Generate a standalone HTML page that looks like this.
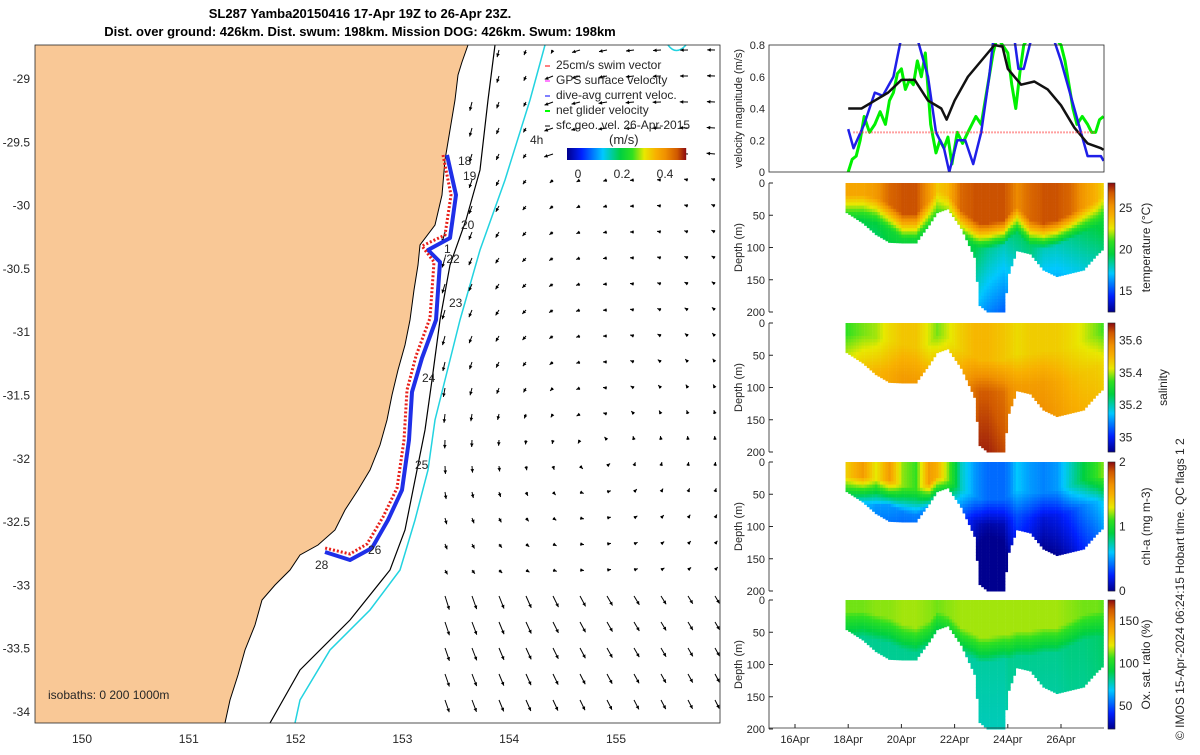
<!DOCTYPE html>
<html><head><meta charset="utf-8"><style>
body{margin:0;background:#fff}
svg text{font-family:"Liberation Sans",sans-serif;fill:#262626}
</style></head><body>
<svg id="s" width="1200" height="750" xmlns="http://www.w3.org/2000/svg">
<text x="360" y="18" font-size="13" font-weight="bold" text-anchor="middle" style="fill:#000">SL287 Yamba20150416 17-Apr 19Z to 26-Apr 23Z.</text>
<text x="360" y="36" font-size="13" font-weight="bold" text-anchor="middle" style="fill:#000">Dist. over ground: 426km. Dist. swum: 198km. Mission DOG: 426km. Swum: 198km</text>
<g id="map">
<rect x="35" y="45" width="685" height="678" fill="#fff"/>
<polygon fill="#f9c896" points="468,45 462,62 458,75 455,100 450,130 445,160 442,195 435,225 420,245 418,265 414,290 410,320 405,345 398,370 392,395 387,420 380,445 370,470 358,490 345,510 335,530 318,545 300,555 290,570 275,585 262,600 255,625 245,650 238,675 230,700 225,723 35,723 35,45"/>
<polyline fill="none" stroke="#000" stroke-width="1" points="468,45 462,62 458,75 455,100 450,130 445,160 442,195 435,225 420,245 418,265 414,290 410,320 405,345 398,370 392,395 387,420 380,445 370,470 358,490 345,510 335,530 318,545 300,555 290,570 275,585 262,600 255,625 245,650 238,675 230,700 225,723"/>
<polyline fill="none" stroke="#000" stroke-width="1.2" points="495,45 488,100 480,170 466,220 450,265 440,320 432,380 425,430 415,480 405,530 390,570 350,620 300,670 270,723"/>
<polyline fill="none" stroke="#22d3e0" stroke-width="1.5" points="545,45 530,100 505,180 480,250 460,320 445,380 435,420 428,470 415,520 400,570 370,610 330,650 300,700 295,723"/>
<path d="M668,45 Q676,56 686,45" fill="none" stroke="#22d3e0" stroke-width="1.5"/>
<g id="arrows"></g>
<polyline fill="none" stroke="#1f2fe8" stroke-width="4" stroke-linejoin="round" points="447,155 456,195 450,238 428,250 440,262 436,320 422,358 412,392 409,440 402,490 388,520 372,548 350,560 325,552"/>
<polyline fill="none" stroke="#e8201a" stroke-width="3" stroke-dasharray="2,2" points="443,155 451,195 445,235 422,246 434,262 430,318 416,356 407,390 404,440 397,488 383,517 367,544 350,554 325,548"/>
<g font-size="12">
<text x="458" y="165">18</text>
<text x="463" y="180">19</text>
<text x="461" y="229">20</text>
<text x="444" y="253">1</text>
<text x="443" y="263">/22</text>
<text x="449" y="307">23</text>
<text x="422" y="382">24</text>
<text x="415" y="469">25</text>
<text x="368" y="554">26</text>
<text x="315" y="569">28</text>
</g>
<g font-size="12">
<text x="556" y="69">25cm/s swim vector</text><line x1="545" y1="66" x2="550" y2="66" stroke="red"/>
<text x="556" y="84">GPS surface velocity</text><line x1="545" y1="81" x2="550" y2="81" stroke="#f0f"/>
<text x="556" y="99">dive-avg current veloc.</text><line x1="545" y1="96" x2="550" y2="96" stroke="#00f"/>
<text x="556" y="114">net glider velocity</text><line x1="545" y1="111" x2="550" y2="111" stroke="#0f0" stroke-width="2"/>
<text x="556" y="129">sfc geo. vel. 26-Apr-2015</text><line x1="545" y1="126" x2="550" y2="126" stroke="#000"/>
<text x="530" y="144">4h</text>
<text x="609" y="144" font-size="13">(m/s)</text>
<rect id="lgcb" x="567" y="148" width="119" height="12" fill="none"/>
<text x="578" y="178" text-anchor="middle">0</text><text x="622" y="178" text-anchor="middle">0.2</text><text x="665" y="178" text-anchor="middle">0.4</text>
</g>
<text x="48" y="699" font-size="12">isobaths: 0   200  1000m</text>
<rect x="35" y="45" width="685" height="678" fill="none" stroke="#262626" stroke-width="0.8"/>
<g id="mapticks" font-size="12"></g>
</g>
<g id="right"></g>
<text transform="translate(1184,740) rotate(-90)" font-size="12">© IMOS 15-Apr-2024 06:24:15 Hobart time. QC flags 1  2</text>
</svg>
<script>
const NS="http://www.w3.org/2000/svg";
function mk(tag,attrs,parent){const e=document.createElementNS(NS,tag);for(const k in attrs)e.setAttribute(k,attrs[k]);parent.appendChild(e);return e;}
const CM=[[0,[0,0,143]],[0.12,[0,32,255]],[0.3,[0,200,255]],[0.45,[0,208,64]],[0.55,[48,224,32]],[0.65,[232,232,0]],[0.75,[248,176,0]],[0.83,[240,144,0]],[0.93,[208,88,0]],[1,[144,16,16]]];
function cmap(v){v=Math.max(0,Math.min(1,v));for(let i=0;i<CM.length-1;i++){if(v<=CM[i+1][0]){const f=(v-CM[i][0])/(CM[i+1][0]-CM[i][0]);const a=CM[i][1],b=CM[i+1][1];return `rgb(${Math.round(a[0]+f*(b[0]-a[0]))},${Math.round(a[1]+f*(b[1]-a[1]))},${Math.round(a[2]+f*(b[2]-a[2]))})`;}}return 'rgb(144,16,16)';}
// ---- data ----
const lonTicks=[150,151,152,153,154,155];
const latTicks=[-29,-29.5,-30,-30.5,-31,-31.5,-32,-32.5,-33,-33.5,-34];
const dateTicks=["16Apr","18Apr","20Apr","22Apr","24Apr","26Apr"];
const dateTickDays=[16,18,20,22,24,26];
const velBlackT=[18,18.5,19,19.5,20,20.5,21,21.5,21.7,22,22.5,23,23.5,23.8,24,24.5,25,25.5,26,26.5,27,27.5,27.6];
const velBlack=[0.40,0.40,0.45,0.50,0.58,0.58,0.45,0.40,0.33,0.45,0.60,0.70,0.80,0.79,0.65,0.55,0.57,0.52,0.42,0.28,0.18,0.15,0.14];
const velBlueT=[18,18.2,18.6,19,19.3,19.7,20,20.5,21,21.3,21.6,21.8,22.1,22.4,22.7,23,23.3,23.5,24.2,24.4,24.6,24.9,25.6,26,26.5,27,27.5,27.6];
const velBlue=[0.27,0.15,0.30,0.50,0.48,0.60,0.85,0.90,0.60,0.25,0.15,0.0,0.20,0.20,0.05,0.25,0.60,0.90,0.90,0.65,0.65,0.85,0.90,0.70,0.40,0.10,0.10,0.07];
const velGreenT=[18,18.15,18.3,18.45,18.6,18.8,19,19.2,19.4,19.55,19.7,19.85,20,20.15,20.3,20.45,20.6,20.75,20.9,21.1,21.3,21.45,21.6,21.75,21.9,22.1,22.3,22.5,22.65,22.8,23,23.15,23.3,23.45,23.6,23.8,24,24.15,24.3,24.45,24.6,24.8,25,25.5,26,26.15,26.3,26.45,26.6,26.8,27,27.15,27.3,27.45,27.6];
const velGreen=[0,0.08,0.10,0.2,0.35,0.25,0.30,0.38,0.30,0.45,0.50,0.62,0.65,0.52,0.58,0.55,0.70,0.60,0.75,0.30,0.12,0.20,0.15,0.22,0.05,0.25,0.18,0.25,0.30,0.35,0.30,0.45,0.60,0.75,0.85,0.80,0.75,0.55,0.40,0.62,0.80,0.85,0.90,0.90,0.80,0.70,0.55,0.40,0.30,0.35,0.30,0.25,0.25,0.33,0.35];
const swimSpeed=0.25;
const profT=[17.9,18.5,19,19.5,20,20.5,21,21.3,21.7,22.2,22.7,22.9,23.2,23.8,24.0,24.3,24.8,25.3,25.8,26.3,26.8,27.3,27.6];
const bottomDepth=[46,62,80,92,93,93,65,46,40,70,115,190,200,200,140,105,110,135,145,140,135,112,100];
const tempSurf=[24.5,24.5,25,26.5,27,27,25,23.5,24,26.5,27,27,27,27,26.5,25.5,26.5,27,27,26.5,25,24,23];
const tempMld=[15,15,20,30,45,45,25,10,15,40,55,60,60,55,45,35,55,60,55,45,35,25,15];
const tempDeep=[19.5,19.5,19.5,20,20,20,20,20.5,20.5,20,19.5,19,18.5,18,18.5,19,19,18,18,18.5,19,19.5,20];
const salSurf=[35.35,35.38,35.4,35.45,35.48,35.48,35.42,35.38,35.42,35.47,35.5,35.5,35.5,35.48,35.47,35.45,35.47,35.47,35.47,35.45,35.42,35.38,35.35];
const salMld=[15,15,20,25,30,35,30,15,20,40,50,55,55,55,50,45,45,40,40,35,25,15,10];
const salDeep=[35.45,35.48,35.5,35.52,35.55,35.55,35.52,35.5,35.5,35.55,35.62,35.65,35.65,35.62,35.58,35.55,35.55,35.55,35.53,35.5,35.48,35.47,35.45];
const chlSurf=[1.4,1.6,1.3,1.6,1.2,1.1,1.6,1.5,1.2,0.7,0.5,0.45,0.4,0.4,0.45,0.6,0.5,0.45,0.5,0.7,0.9,1.1,1.2];
const chlMld=[20,20,25,25,35,40,30,20,25,40,50,55,55,55,50,40,45,45,40,35,25,20,20];
const chlDeep=[0.7,0.6,0.5,0.5,0.45,0.45,0.45,0.5,0.5,0.35,0.15,0.08,0.05,0.08,0.2,0.35,0.25,0.15,0.2,0.3,0.45,0.55,0.65];
const oxSurf=[112,112,114,114,116,116,114,112,114,116,116,116,116,116,116,116,116,116,116,114,112,112,110];
const oxMld=[15,15,20,25,35,40,30,15,20,40,50,55,55,50,50,45,45,40,40,30,20,15,15];
const oxDeep=[85,82,82,82,82,82,82,82,82,80,80,80,80,80,82,82,82,82,82,84,84,86,88];
// ---- map axes ----
const mapX=lon=>82+(lon-150)*106.8;
const mapY=lat=>79+(-29-lat)*126.6;
const mt=document.getElementById('mapticks');
lonTicks.forEach(l=>{const t=mk('text',{x:mapX(l),y:743,'text-anchor':'middle'},mt);t.textContent=l;

});
latTicks.forEach(l=>{const t=mk('text',{x:30,y:mapY(l)+4,'text-anchor':'end'},mt);t.textContent=l;

});
const lg=document.getElementById('lgcb').parentNode;
for(let i=0;i<119;i++){mk('rect',{x:567+i,y:148,width:1.2,height:12,fill:cmap(i/118)},lg);}
// arrows
const ag=document.getElementById('arrows');
function coastX(y){const p=[[45,468],[100,455],[160,445],[225,435],[265,418],[320,410],[370,398],[420,387],[470,370],[510,345],[545,318],[570,290],[600,262],[650,245],[700,230],[723,225]];for(let i=0;i<p.length-1;i++){if(y>=p[i][0]&&y<=p[i+1][0]){const f=(y-p[i][0])/(p[i+1][0]-p[i][0]);return p[i][1]+f*(p[i+1][1]-p[i][1]);}}return 225;}
for(let y=50;y<720;y+=26){for(let x=445;x<718;x+=27){if(x<coastX(y)+12)continue;
let dx=x-585,dy=y-450;let vx=0.012*dy,vy=-0.012*dx;const r=Math.hypot(dx,dy);const damp=Math.exp(-r/150);vx*=damp*3;vy*=damp*3;
const dist=x-coastX(y);vy+=5*Math.exp(-dist/80);if(y<180&&dist>90){vx-=3;}if(y>590){vy+=5;vx+=0.8;}
const L=Math.hypot(vx,vy)||1;const len=Math.min(18,Math.max(4,L*2));const ux=vx/L,uy=vy/L;
const x2=x+ux*len,y2=y+uy*len;
mk('line',{x1:x,y1:y,x2:x2,y2:y2,stroke:'#000','stroke-width':1},ag);
mk('polygon',{points:`${x2},${y2} ${x2-ux*3.5-uy*1.8},${y2-uy*3.5+ux*1.8} ${x2-ux*3.5+uy*1.8},${y2-uy*3.5-ux*1.8}`,fill:'#000'},ag);}}
// ---- right panels ----
const R=document.getElementById('right');
const tx=t=>795+(t-16)*26.6;
const L0=769,R0=1104;
function interp(ts,vs,t){if(t<=ts[0])return vs[0];for(let i=0;i<ts.length-1;i++){if(t<=ts[i+1]){const f=(t-ts[i])/(ts[i+1]-ts[i]);return vs[i]+f*(vs[i+1]-vs[i]);}}return vs[vs.length-1];}
const vy0=45,vy1=172,vmax=0.8;const vyf=v=>vy1-(v/vmax)*(vy1-vy0);
mk('clipPath',{id:'vclip'},R);mk('rect',{x:L0,y:vy0-2,width:R0-L0,height:vy1-vy0+2},R.lastChild);
const vg=mk('g',{'clip-path':'url(#vclip)'},R);
function line(ts,vs,col,w,name){const pl=mk('polyline',{points:ts.map((t,i)=>tx(t)+','+vyf(vs[i])).join(' '),fill:'none',stroke:col,'stroke-width':w,'stroke-linejoin':'round'},vg);

}
line(velGreenT,velGreen,'#00f000',3,'net-glider-velocity-line');
line(velBlueT,velBlue,'#1f1fe8',2.5,'dive-avg-current-line');
line(velBlackT,velBlack,'#111',2.5,'surface-geo-velocity-line');
const sw=mk('line',{x1:tx(18.2),x2:tx(27.3),y1:vyf(swimSpeed),y2:vyf(swimSpeed),stroke:'#f44','stroke-width':2,'stroke-dasharray':'1,2'},vg);


mk('rect',{x:L0,y:vy0,width:R0-L0,height:vy1-vy0,fill:'none',stroke:'#262626','stroke-width':0.8},R);
[0,0.2,0.4,0.6,0.8].forEach(v=>{const t=mk('text',{x:L0-4,y:vyf(v)+4,'text-anchor':'end','font-size':11},R);t.textContent=v;

});
let yl=mk('text',{transform:`translate(742,${(vy0+vy1)/2}) rotate(-90)`,'text-anchor':'middle','font-size':11},R);yl.textContent='velocity magnitude (m/s)';


const panels=[
{y0:183,surf:tempSurf,mld:tempMld,deep:tempDeep,tw:40,slope:-0.025,vmin:12.5,vmax:28,ticks:[15,20,25],label:'temperature (°C)',name:'temperature'},
{y0:323,surf:salSurf,mld:salMld,deep:salDeep,tw:50,slope:0.0005,vmin:34.91,vmax:35.71,ticks:[35,35.2,35.4,35.6],label:'salinity',name:'salinity'},
{y0:462,surf:chlSurf,mld:chlMld,deep:chlDeep,tw:40,slope:-0.003,vmin:0,vmax:2,ticks:[0,1,2],label:'chl-a (mg m-3)',name:'chlorophyll'},
{y0:600,surf:oxSurf,mld:oxMld,deep:oxDeep,tw:40,slope:-0.03,vmin:23,vmax:175,ticks:[50,100,150],label:'Ox. sat. ratio (%)',name:'oxygen'}];
panels.forEach(p=>{const H=129,y1=p.y0+H;const dy=d=>p.y0+d/200*H;
const g=mk('g',{},R);
for(let t=17.9;t<=27.6;t+=0.1){const bd=interp(profT,bottomDepth,t),s=interp(profT,p.surf,t),m=interp(profT,p.mld,t),dp=interp(profT,p.deep,t);
for(let d=0;d<bd;d+=5){let v=d<m?s:(d<m+p.tw?s+(dp-s)*(d-m)/p.tw:dp+p.slope*(d-m-p.tw));
mk('rect',{x:tx(t),y:dy(d),width:2.9,height:Math.min(5,bd-d)*H/200+0.5,fill:cmap((v-p.vmin)/(p.vmax-p.vmin))},g);}}
mk('line',{x1:L0,y1:p.y0,x2:L0,y2:y1,stroke:'#262626','stroke-width':0.8},R);
[0,50,100,150,200].forEach(d=>{mk('line',{x1:L0,x2:L0+4,y1:dy(d),y2:dy(d),stroke:'#262626'},R);const t=mk('text',{x:L0-4,y:dy(d)+4,'text-anchor':'end','font-size':11},R);t.textContent=d;

});
const dl=mk('text',{transform:`translate(742,${p.y0+H/2}) rotate(-90)`,'text-anchor':'middle','font-size':11},R);dl.textContent='Depth (m)';


const cb=mk('g',{},R);
for(let i=0;i<H;i++)mk('rect',{x:1108,y:y1-i-1,width:7,height:1.2,fill:cmap(i/(H-1))},cb);
mk('rect',{x:1108,y:p.y0,width:7,height:H,fill:'none',stroke:'#262626','stroke-width':0.6},cb);
p.ticks.forEach(v=>{const yy=y1-(v-p.vmin)/(p.vmax-p.vmin)*H;const t=mk('text',{x:1119,y:yy+4,'font-size':12},R);t.textContent=v;

});
const cl=mk('text',{transform:`translate(${p.name==='salinity'?1167:1150},${p.y0+H/2}) rotate(-90)`,'text-anchor':'middle','font-size':12},R);cl.textContent=p.label;

});
mk('line',{x1:L0,x2:R0,y1:728,y2:728,stroke:'#262626','stroke-width':0.8},R);
dateTicks.forEach((d,i)=>{const x=tx(dateTickDays[i]);mk('line',{x1:x,x2:x,y1:728,y2:724,stroke:'#262626'},R);const t=mk('text',{x:x,y:743,'text-anchor':'middle','font-size':11},R);t.textContent=d;

});
</script>
</body></html>
